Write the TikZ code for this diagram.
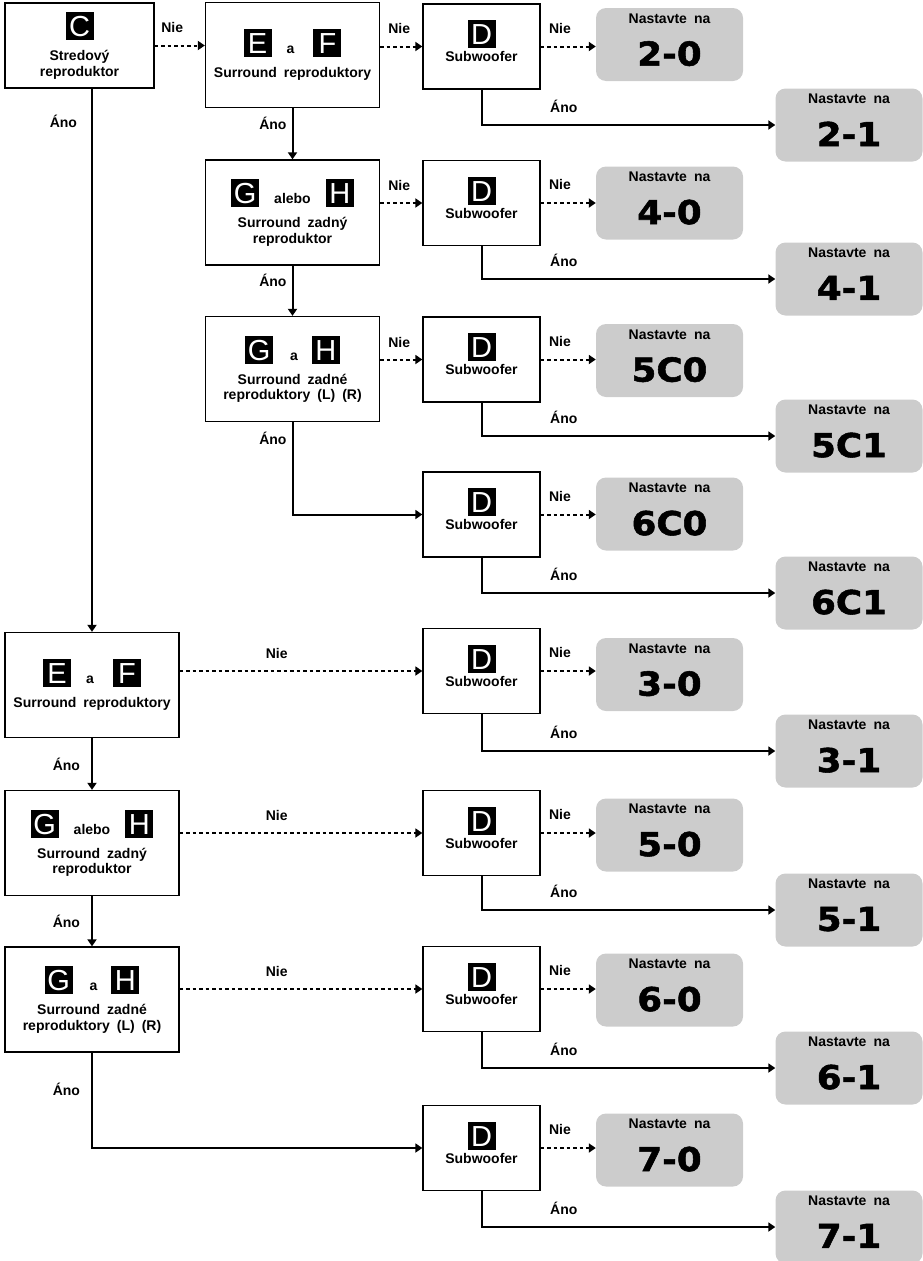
\documentclass[tikz,border=0pt]{standalone}
\usepackage{fontspec}
\setmainfont{Liberation Sans}[WordSpace=1.8]
\newfontfamily\numfont{DejaVu Sans}[FakeStretch=1.08, FakeBold=1.6]
\newfontfamily\iconfont{Liberation Sans}
\usetikzlibrary{arrows.meta}
\definecolor{resgray}{RGB}{204,204,204}
\setlength{\fboxsep}{0pt}
\newcommand{\spk}[1]{\colorbox{black}{\makebox[28pt]{\rule[-3.5pt]{0pt}{28pt}\textcolor{white}{\fontsize{29}{29}\iconfont\mdseries #1}}}}
\newcommand{\setto}[1]{Nastavte na\\[17pt]{\fontsize{33}{33}\numfont\bfseries #1}\rule[-10pt]{0pt}{10pt}}

\begin{document}
\begin{tikzpicture}[
  x=1pt, y=-1pt,
  every node/.style={
    font=\fontsize{14}{15.5}\selectfont\bfseries, inner sep=0pt,
  },
  question/.style={
    draw, line width=1.3pt, minimum width=174pt, minimum height=105pt, align=center
  },
  subwoofer/.style={
    draw, line width=1.3pt, minimum width=117pt, minimum height=85pt, align=center
  },
  result/.style={
    fill=resgray, rounded corners=10pt, minimum width=147pt, minimum height=73pt, align=center
  },
  nie/.style={
    line width=2pt, dash pattern=on 3.5pt off 3pt, -{Triangle[length=7pt,width=9pt]}
  },
  ano/.style={
    line width=2pt, -{Triangle[length=7pt,width=9pt]}
  }
  ]
  \useasboundingbox (0,0) rectangle (923,1261);

  \node[question, minimum width=149pt, minimum height=85pt] (c) at (79.5,45.5)
    {\spk{C}\\[8.5pt]Stredový\\reproduktor};
  \node[question] (ef1) at (292.5,55)
    {\spk{E}\hspace{15pt}a\hspace{19pt}\spk{F}\\[8.5pt]Surround reproduktory};
  \node[question] (gh1) at (292.5,212.5)
    {\spk{G}\hspace{15pt}alebo\hspace{15pt}\spk{H}\\[8.5pt]Surround zadný\\reproduktor};
  \node[question] (gah1) at (292.5,369)
    {\spk{G}\hspace{17pt}a\hspace{14pt}\spk{H}\\[8.5pt]Surround zadné\\reproduktory (L) (R)};
  \node[question] (ef2) at (92,685)
    {\spk{E}\hspace{15pt}a\hspace{19pt}\spk{F}\\[8.5pt]Surround reproduktory};
  \node[question] (gh2) at (92,843)
    {\spk{G}\hspace{15pt}alebo\hspace{15pt}\spk{H}\\[8.5pt]Surround zadný\\reproduktor};
  \node[question] (gah2) at (92,999.5)
    {\spk{G}\hspace{17pt}a\hspace{14pt}\spk{H}\\[8.5pt]Surround zadné\\reproduktory (L) (R)};

  \node[subwoofer] (d1) at (481.5,46.5) {\spk{D}\\[1.5pt]Subwoofer\rule[-11pt]{0pt}{0pt}};
  \node[subwoofer] (d2) at (481.5,203) {\spk{D}\\[1.5pt]Subwoofer\rule[-11pt]{0pt}{0pt}};
  \node[subwoofer] (d3) at (481.5,359.5) {\spk{D}\\[1.5pt]Subwoofer\rule[-11pt]{0pt}{0pt}};
  \node[subwoofer] (d4) at (481.5,514.5) {\spk{D}\\[1.5pt]Subwoofer\rule[-11pt]{0pt}{0pt}};
  \node[subwoofer] (d5) at (481.5,671) {\spk{D}\\[1.5pt]Subwoofer\rule[-11pt]{0pt}{0pt}};
  \node[subwoofer] (d6) at (481.5,833) {\spk{D}\\[1.5pt]Subwoofer\rule[-11pt]{0pt}{0pt}};
  \node[subwoofer] (d7) at (481.5,989) {\spk{D}\\[1.5pt]Subwoofer\rule[-11pt]{0pt}{0pt}};
  \node[subwoofer] (d8) at (481.5,1148) {\spk{D}\\[1.5pt]Subwoofer\rule[-11pt]{0pt}{0pt}};

  \node[result] (r20) at (669.5,44.5) {\setto{2-0}};
  \node[result] (r21) at (849,125) {\setto{2-1}};
  \node[result] (r40) at (669.5,203) {\setto{4-0}};
  \node[result] (r41) at (849,279) {\setto{4-1}};
  \node[result] (r5c0) at (669.5,360.5) {\setto{5C0}};
  \node[result] (r5c1) at (849,436) {\setto{5C1}};
  \node[result] (r6c0) at (669.5,514) {\setto{6C0}};
  \node[result] (r6c1) at (849,593) {\setto{6C1}};
  \node[result] (r30) at (669.5,674.5) {\setto{3-0}};
  \node[result] (r31) at (849,751) {\setto{3-1}};
  \node[result] (r50) at (669.5,835) {\setto{5-0}};
  \node[result] (r51) at (849,910) {\setto{5-1}};
  \node[result] (r60) at (669.5,990) {\setto{6-0}};
  \node[result] (r61) at (849,1068) {\setto{6-1}};
  \node[result] (r70) at (669.5,1150) {\setto{7-0}};
  \node[result] (r71) at (849,1227) {\setto{7-1}};

  \draw[nie] (c) -- node[above=12pt, pos=0.35] (n1) {Nie} (c -| ef1.west);
  \draw[nie] (ef1.east |- d1) -- node[above=12pt, pos=0.45] (n2) {Nie} (d1);
  \draw[ano] (ef1) -- node[left=5pt, pos=0.3] (a1) {Áno} (gh1);
  \draw[nie] (gh1.east |- d2) -- node[above=11pt, pos=0.45] (n3) {Nie} (d2);
  \draw[ano] (gh1) -- node[left=5pt, pos=0.3] (a2) {Áno} (gah1);
  \draw[nie] (gah1.east |- d3) -- node[above=11pt, pos=0.45] (n4) {Nie} (d3);
  \draw[ano] (gah1) |- node[left=5pt, pos=0.09] (a3) {Áno} (d4);

  \draw[ano] (c.south -| ef2) -- node[left=14pt, pos=0.06] (a4) {Áno} (ef2);
  \draw[nie] (ef2.east |- d5) -- node[above=11pt, pos=0.4] (n5) {Nie} (d5);
  \draw[ano] (ef2) -- node[left=11pt] (a5) {Áno} (gh2);
  \draw[nie] (gh2.east |- d6) -- node[above=11pt, pos=0.4] (n6) {Nie} (d6);
  \draw[ano] (gh2) -- node[left=11pt] (a6) {Áno} (gah2);
  \draw[nie] (gah2.east |- d7) -- node[above=11pt, pos=0.4] (n7) {Nie} (d7);
  \draw[ano] (gah2) |- node[left=11pt, pos=0.19] (a7) {Áno} (d8);

  \draw[nie] (d1) -- node[above=12pt, pos=0.35] (n8) {Nie} (d1 -| r20.west);
  \draw[ano] (d1) |- node[above=11pt, pos=0.64] (a8) {Áno} (r21);
  \draw[nie] (d2) -- node[above=12pt, pos=0.35] (n9) {Nie} (d2 -| r40.west);
  \draw[ano] (d2) |- node[above=11pt, pos=0.64] (a9) {Áno} (r41);
  \draw[nie] (d3) -- node[above=12pt, pos=0.35] (n10) {Nie} (d3 -| r5c0.west);
  \draw[ano] (d3) |- node[above=11pt, pos=0.64] (a10) {Áno} (r5c1);
  \draw[nie] (d4) -- node[above=12pt, pos=0.35] (n11) {Nie} (d4 -| r6c0.west);
  \draw[ano] (d4) |- node[above=11pt, pos=0.64] (a11) {Áno} (r6c1);
  \draw[nie] (d5) -- node[above=12pt, pos=0.35] (n12) {Nie} (d5 -| r30.west);
  \draw[ano] (d5) |- node[above=11pt, pos=0.64] (a12) {Áno} (r31);
  \draw[nie] (d6) -- node[above=12pt, pos=0.35] (n13) {Nie} (d6 -| r50.west);
  \draw[ano] (d6) |- node[above=11pt, pos=0.64] (a13) {Áno} (r51);
  \draw[nie] (d7) -- node[above=12pt, pos=0.35] (n14) {Nie} (d7 -| r60.west);
  \draw[ano] (d7) |- node[above=11pt, pos=0.64] (a14) {Áno} (r61);
  \draw[nie] (d8) -- node[above=12pt, pos=0.35] (n15) {Nie} (d8 -| r70.west);
  \draw[ano] (d8) |- node[above=11pt, pos=0.64] (a15) {Áno} (r71);
\end{tikzpicture}
\end{document}
